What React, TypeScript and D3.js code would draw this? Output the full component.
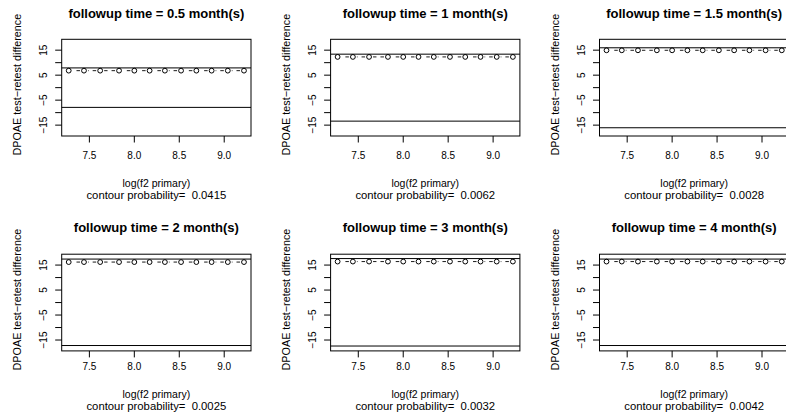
import React from "react";
import * as d3 from "d3";

const followupMonths = ["0.5", "1", "1.5", "2", "3", "4"];
const contourProbability = ["0.0415", "0.0062", "0.0028", "0.0025", "0.0032", "0.0042"];
const logF2 = [7.27, 7.44, 7.62, 7.83, 8.0, 8.17, 8.34, 8.52, 8.69, 8.86, 9.04, 9.22];
const diff05 = [6.8, 6.8, 6.8, 6.8, 6.8, 6.8, 6.8, 6.8, 6.8, 6.8, 6.8, 6.8];
const diff1 = [12.3, 12.3, 12.3, 12.3, 12.3, 12.3, 12.3, 12.3, 12.3, 12.3, 12.3, 12.3];
const diff15 = [14.95, 14.95, 14.95, 14.95, 14.95, 14.95, 14.95, 14.95, 14.95, 14.95, 14.95, 14.95];
const diff2 = [16.2, 16.2, 16.2, 16.2, 16.2, 16.2, 16.2, 16.2, 16.2, 16.2, 16.2, 16.2];
const diff3 = [16.4, 16.4, 16.4, 16.4, 16.4, 16.4, 16.4, 16.4, 16.4, 16.4, 16.4, 16.4];
const diff4 = [16.4, 16.4, 16.4, 16.4, 16.4, 16.4, 16.4, 16.4, 16.4, 16.4, 16.4, 16.4];
const panelDiffs = [diff05, diff1, diff15, diff2, diff3, diff4];
const upperLimit = [7.9, 13.4, 15.95, 17.4, 17.6, 17.4];
const lowerLimit = [-7.9, -13.4, -16.05, -17.2, -17.4, -17.2];
const xTicks = [7.5, 8.0, 8.5, 9.0];
const yTicks = [-15, -10, -5, 0, 5, 10, 15];
const yTickLabels = [-15, -5, 5, 15];

const FONT = "'Liberation Sans', Arial, Helvetica, sans-serif";
const colLeft = [61.7, 330.6, 599.5];
const rowTop = [39.3, 254.2];
const rowTextShift = [0, -3.5];
const boxW = 189.3;
const boxH = 96.7;

function Panel({ idx }: { idx: number }) {
  const col = idx % 3;
  const row = Math.floor(idx / 3);
  const left = colLeft[col];
  const top = rowTop[row];
  const ts = rowTextShift[row];
  const x = d3.scaleLinear().domain([7.192, 9.298]).range([left, left + boxW]);
  const y = d3.scaleLinear().domain([-19.35, 19.35]).range([top + boxH, top]);
  const vals = panelDiffs[idx];
  const pts = logF2.map((v, i) => [x(v), y(vals[i])] as [number, number]);
  const gap = 4;
  // segments drawn right-to-left so the dash pattern starts next to the right-hand point
  const segs = pts.slice(0, -1).map((p, i) => {
    const q = pts[i + 1];
    const dx = p[0] - q[0];
    const dy = p[1] - q[1];
    const len = Math.hypot(dx, dy);
    const ux = dx / len;
    const uy = dy / len;
    return [q[0] + ux * gap, q[1] + uy * gap, p[0] - ux * gap, p[1] - uy * gap];
  });
  const cx = left + boxW / 2;
  const cy = top + boxH / 2;
  const bottom = top + boxH;
  return (
    <g>
      <text x={cx} y={top - 21.8} textAnchor="middle" fontFamily={FONT} fontWeight="bold" fontSize={13}>
        {`followup time = ${followupMonths[idx]} month(s)`}
      </text>
      <line x1={left} x2={left + boxW} y1={y(upperLimit[idx])} y2={y(upperLimit[idx])} stroke="#000" strokeWidth={1} />
      <line x1={left} x2={left + boxW} y1={y(lowerLimit[idx])} y2={y(lowerLimit[idx])} stroke="#000" strokeWidth={1} />
      {segs.map((s, i) => (
        <line key={i} x1={s[0]} y1={s[1]} x2={s[2]} y2={s[3]} stroke="#000" strokeWidth={0.9} strokeDasharray="3.5,4" />
      ))}
      {pts.map((p, i) => (
        <circle key={i} cx={p[0]} cy={p[1]} r={2.4} fill="none" stroke="#000" strokeWidth={1} />
      ))}
      <rect x={left} y={top} width={boxW} height={boxH} fill="none" stroke="#000" strokeWidth={1} />
      {xTicks.map((t) => (
        <g key={t}>
          <line x1={x(t)} x2={x(t)} y1={bottom} y2={bottom + 6.5} stroke="#000" />
          <text x={x(t)} y={bottom + 22.5 + ts} textAnchor="middle" fontFamily={FONT} fontSize={10}>
            {d3.format(".1f")(t)}
          </text>
        </g>
      ))}
      {yTicks.map((t) => (
        <line key={t} x1={left - 6.5} x2={left} y1={y(t)} y2={y(t)} stroke="#000" />
      ))}
      {yTickLabels.map((t) => (
        <text
          key={t}
          transform={`translate(${left - 15},${y(t)}) rotate(-90)`}
          textAnchor="middle"
          fontFamily={FONT}
          fontSize={10}
        >
          {t < 0 ? `\u2212${Math.abs(t)}` : `${t}`}
        </text>
      ))}
      <text
        transform={`translate(${left - 41},${cy - 3}) rotate(-90)`}
        textAnchor="middle"
        fontFamily={FONT}
        fontSize={10.8}
      >
        DPOAE test{"\u2212"}retest difference
      </text>
      <text x={cx} y={bottom + 50.5 + ts} textAnchor="middle" fontFamily={FONT} fontSize={10.5}>
        log(f2 primary)
      </text>
      <text
        x={cx}
        y={bottom + 62.5 + ts}
        textAnchor="middle"
        fontFamily={FONT}
        fontSize={11.3}
        style={{ whiteSpace: "pre" }}
      >
        {`contour probability=  ${contourProbability[idx]}`}
      </text>
    </g>
  );
}

export default function App() {
  return (
    <svg
      width={786}
      height={419}
      style={{ position: "absolute", left: 0, top: 0, background: "#fff" }}
    >
      <rect width={786} height={419} fill="#fff" />
      {followupMonths.map((_, i) => (
        <Panel key={i} idx={i} />
      ))}
    </svg>
  );
}
